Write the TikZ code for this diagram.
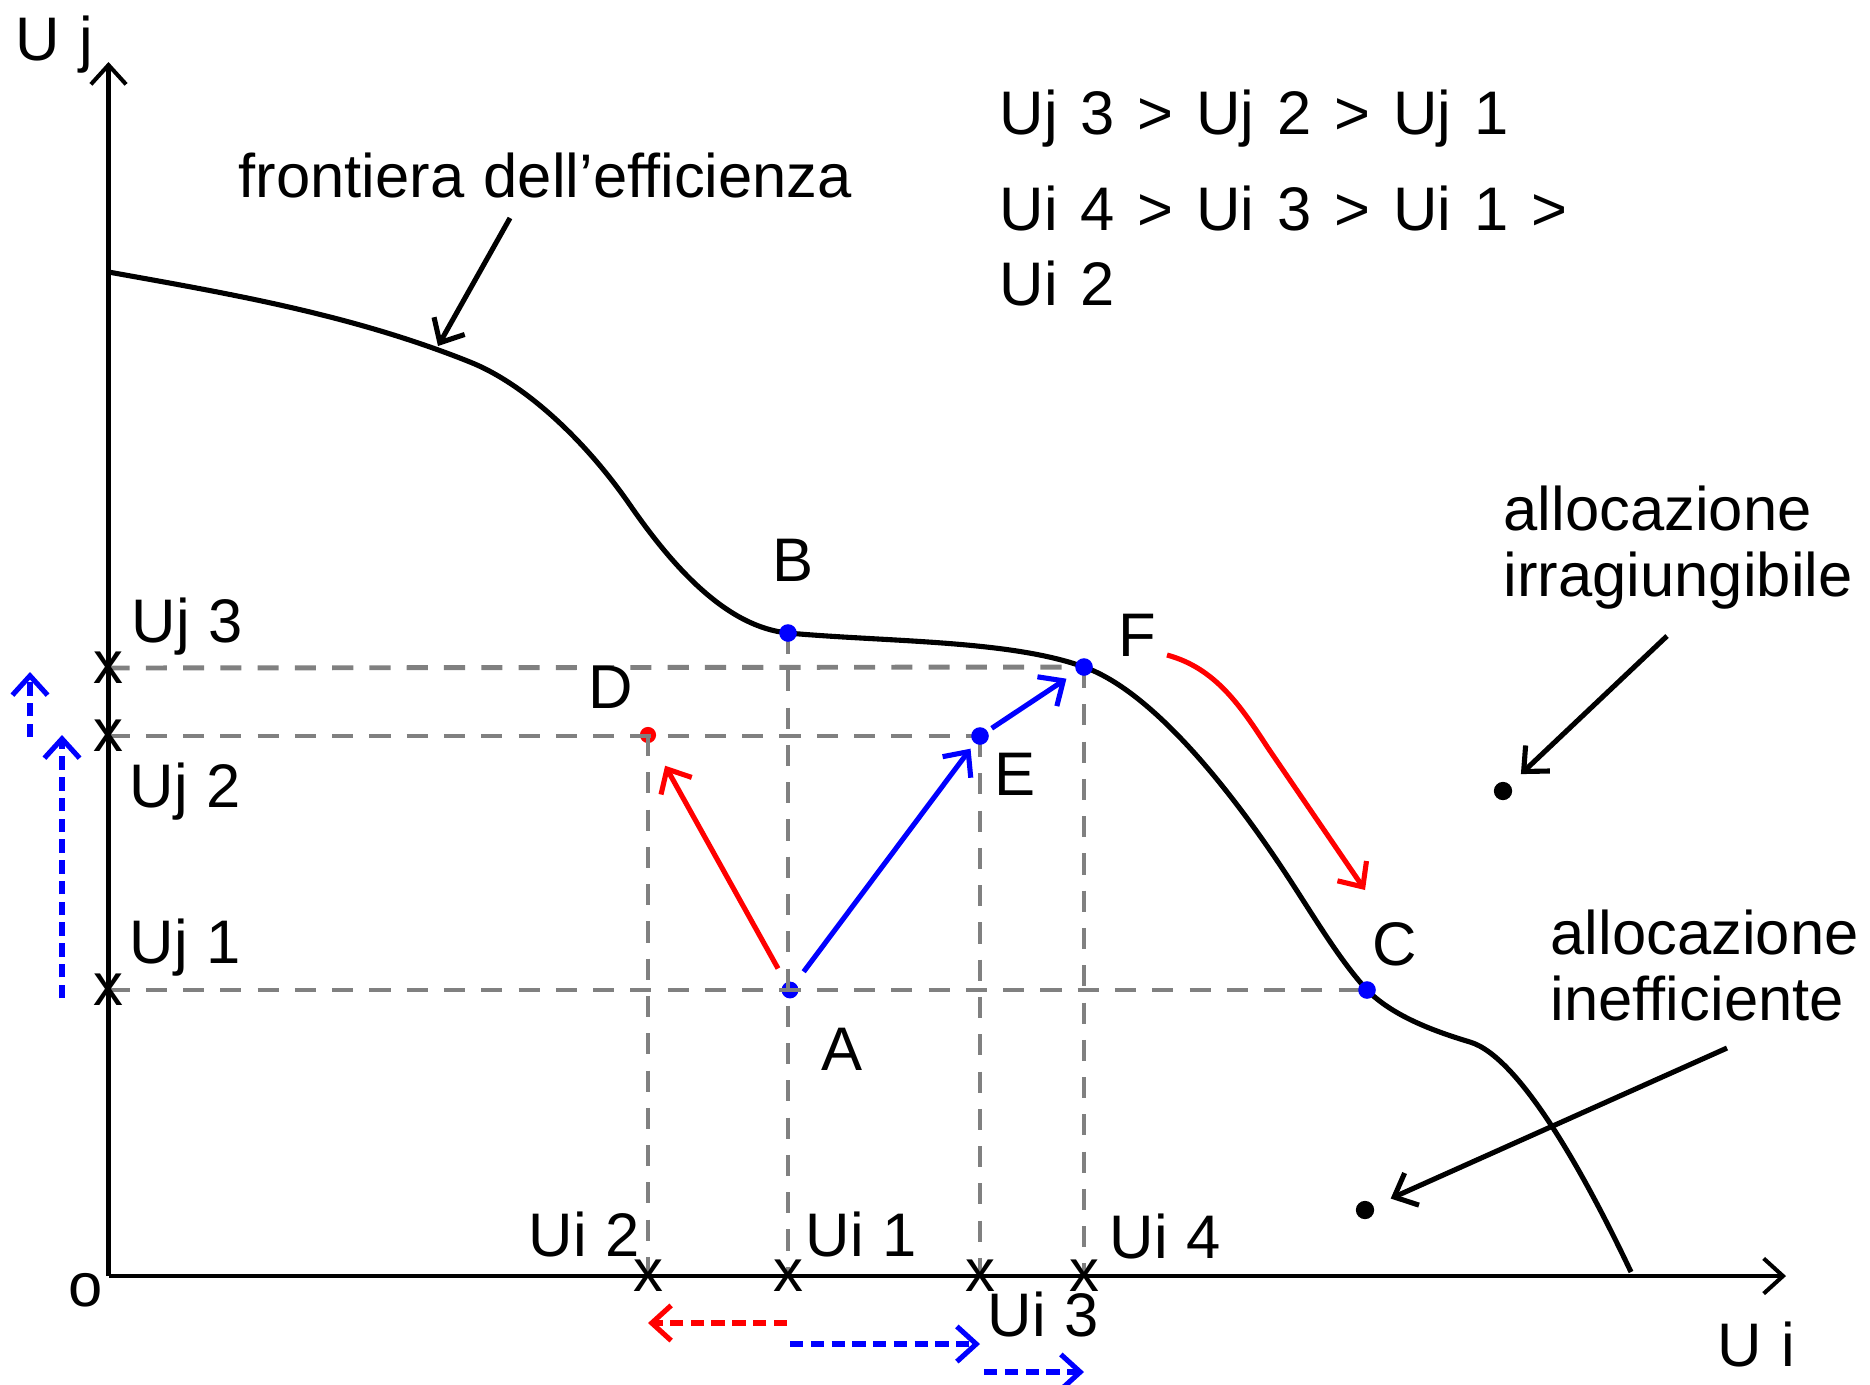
\documentclass[tikz,border=0pt]{standalone}
\usepackage{fontspec}
\setmainfont[WordSpace=1.12]{Liberation Sans}
\usepackage{xcolor}
\definecolor{vizGrid}{HTML}{808080}
\definecolor{vizRed}{HTML}{FF0000}
\definecolor{vizBlue}{HTML}{0000FF}
\usetikzlibrary{arrows.meta}

\tikzset{
  lbl/.style={font=\fontsize{17.5}{21}\selectfont, inner sep=0pt, anchor=base west},
  widelbl/.style={lbl, execute at begin node={\spaceskip=6.5pt\relax}},
  tickmark/.style={font=\fontsize{17}{20}\selectfont, inner sep=0pt},
  barb/.style={-{Straight Barb[length=5.5pt,width=10pt]}},
  axis/.style={line width=1.15pt, barb},
  gridline/.style={vizGrid, line width=1.4pt, dash pattern=on 6pt off 4.6pt},
  moveline/.style={line width=1.45pt, barb},
  shiftline/.style={line width=1.45pt, barb, dash pattern=on 3.8pt off 2.1pt},
  dotpt/.style={radius=2.5pt}
}

\begin{document}
\begin{tikzpicture}[x=0.01cm, y=-0.01cm]
  \useasboundingbox (0,0) rectangle (1870,1384);

  \coordinate (O) at (108.5,1276);
  \coordinate (Ytop) at (108.5,62);
  \coordinate (Xtip) at (1786,1276);
  \coordinate (Uj3) at (108.5,668);
  \coordinate (Uj2) at (108.5,736);
  \coordinate (Uj1) at (108.5,990);
  \coordinate (Ui2) at (648,1276);
  \coordinate (Ui1) at (788,1276);
  \coordinate (Ui3) at (980,1276);
  \coordinate (Ui4) at (1084,1276);
  \coordinate (B) at (788,633);
  \coordinate (F) at (1084,667);
  \coordinate (D) at (648,735);
  \coordinate (E) at (980,736);
  \coordinate (A) at (790,990);
  \coordinate (C) at (1367,990);
  \coordinate (P1) at (1503,791);
  \coordinate (P2) at (1365,1210);

  \fill[vizRed] (D) circle[radius=2.3pt];
  \fill[vizBlue] (A) circle[radius=2.4pt];

  \draw[gridline] (Uj3) -- (F);
  \draw[gridline] (Uj2) -- (E);
  \draw[gridline] (Uj1) -- (C);
  \draw[gridline] (D) -- (Ui2);
  \draw[gridline] (B) -- (Ui1);
  \draw[gridline] (E) -- (Ui3);
  \draw[gridline] (F) -- (Ui4);

  \draw[axis] (O) -- (Ytop);
  \draw[axis] (O) -- (Xtip);

  \draw[line width=1.45pt] (108.5,272)
    .. controls (228.5,293.6) and (350,314) .. (470,362)
    .. controls (525,384) and (585,440) .. (630,505)
    .. controls (675,570) and (728,627) .. (B)
    .. controls (888,642) and (1010,640) .. (F)
    .. controls (1154,692) and (1232,793) .. (1282,868)
    .. controls (1312,913) and (1337,957) .. (C)
    .. controls (1392,1015) and (1430,1030) .. (1470,1042)
    .. controls (1520,1057) and (1586,1177) .. (1631,1272);

  \foreach \p in {B,F,E,C}
    \fill[vizBlue] (\p) circle[dotpt];
  \fill (P1) circle[radius=2.6pt];
  \fill (P2) circle[radius=2.6pt];

  \draw[moveline, vizRed, shorten <=7pt, shorten >=10pt] (A) -- (D);
  \draw[moveline, vizBlue, shorten <=6.5pt, shorten >=4.5pt] (A) -- (E);
  \draw[moveline, vizBlue, shorten <=4pt, shorten >=6pt] (E) -- (F);

  \coordinate (FCstart) at (1167,655);
  \coordinate (FCend) at (1365,890);
  \draw[moveline, vizRed] (FCstart) .. controls (1215,668) and (1240,705) .. (1268,748) -- (FCend);

  \coordinate (frontStart) at (510,218);
  \coordinate (frontEnd) at (438,346);
  \draw[moveline] (frontStart) -- (frontEnd);
  \coordinate (irrStart) at (1667,636);
  \draw[moveline, shorten >=7pt] (irrStart) -- (P1);
  \coordinate (ineStart) at (1727,1048);
  \draw[moveline, shorten >=8pt] (ineStart) -- (P2);

  \coordinate (sjA) at (30,737);
  \coordinate (sjB) at (30,672);
  \coordinate (ljA) at (62,998);
  \coordinate (ljB) at (62,735);
  \draw[shiftline, vizBlue] (sjA) -- (sjB);
  \draw[shiftline, vizBlue] (ljA) -- (ljB);
  \coordinate (riA) at (787,1323);
  \coordinate (riB) at (648,1323);
  \coordinate (biA) at (790,1344);
  \coordinate (biB) at (980,1344);
  \coordinate (ciA) at (984,1372);
  \coordinate (ciB) at (1084,1372);
  \draw[shiftline, vizRed] (riA) -- (riB);
  \draw[shiftline, vizBlue] (biA) -- (biB);
  \draw[shiftline, vizBlue] (ciA) -- (ciB);

  \foreach \t in {Uj3,Uj2,Uj1,Ui2,Ui1,Ui3,Ui4}
    \node[tickmark] (tick\t) at (\t) {x};

  \node[lbl] (labUj) at (15,60) {U j};
  \node[lbl] (labUi) at (1717,1366) {U i};
  \node[lbl, anchor=base] (labO) at (86,1306) {o};
  \node[lbl] (labFront) at (238,197) {frontiera dell’efficienza};
  \node[widelbl] (ordJ) at (999,134) {Uj 3 > Uj 2 > Uj 1};
  \node[widelbl] (ordI) at (999,230) {Ui 4 > Ui 3 > Ui 1 >};
  \node[widelbl] (ordI2) at (999,305) {Ui 2};
  \node[lbl] (labIrr) at (1503,530) {allocazione};
  \node[lbl] (labIrr2) at (1503,596) {irragiungibile};
  \node[lbl] (labIne) at (1550,954) {allocazione};
  \node[lbl] (labIne2) at (1550,1020) {inefficiente};

  \node[lbl, anchor=base] (labB) at (793,581) {B};
  \node[lbl, anchor=base] (labD) at (611,708) {D};
  \node[lbl, anchor=base] (labF) at (1137,656) {F};
  \node[lbl, anchor=base] (labE) at (1015,795) {E};
  \node[lbl, anchor=base] (labC) at (1395,965) {C};
  \node[lbl, anchor=base] (labA) at (842,1070) {A};
  \node[lbl] (labUj3) at (131,642) {Uj 3};
  \node[lbl] (labUj2) at (129,807) {Uj 2};
  \node[lbl] (labUj1) at (129,963) {Uj 1};
  \node[lbl] (labUi2) at (528,1256) {Ui 2};
  \node[lbl] (labUi1) at (805,1256) {Ui 1};
  \node[lbl] (labUi4) at (1109,1258) {Ui 4};
  \node[lbl] (labUi3) at (987,1336) {Ui 3};
\end{tikzpicture}
\end{document}
